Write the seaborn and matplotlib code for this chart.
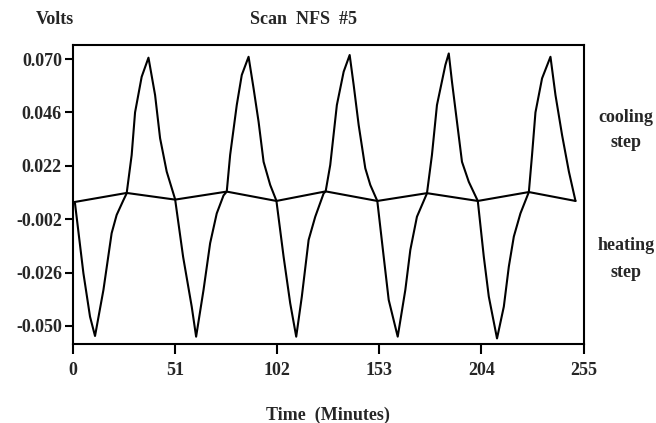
import numpy as np
import pandas as pd
import seaborn as sns
import matplotlib
matplotlib.use("Agg")
import matplotlib.pyplot as plt

# signal trace (time in minutes, volts)
signal_t = [0, 1, 5.2, 8.5, 11, 15.2, 19.3, 21.8, 25.2, 26.8, 29.3, 31, 34.3, 37.7, 41, 43.5, 46.8, 51,
            55, 59.3, 61.5, 65.2, 68.5, 71.8, 75.2, 76.8, 78.5, 81.8, 84.3, 87.7, 90.2, 92.7, 95.2, 98.5, 101.6,
            105.2, 108.5, 111.5, 114.3, 117.7, 121, 125.2, 126.2, 128.5, 131.8, 135.2, 138.2, 140.2, 142.7, 146,
            148.5, 152, 155.2, 157.7, 162.2, 166, 168.5, 171.8, 176.8, 179.3, 181.8, 186, 187.7, 189.3, 191.8,
            194.3, 197.7, 202.2, 205.2, 207.7, 211.8, 215.2, 217.7, 220.2, 223.5, 227.7, 229.3, 231, 234.3,
            238.5, 241, 244.3, 247.7, 251]
signal_v = [0.0056, 0.0051, -0.0263, -0.0458, -0.0545, -0.0338, -0.0083, -0.0001, 0.0066, 0.0096, 0.0268,
            0.046, 0.062, 0.0706, 0.0538, 0.0344, 0.0194, 0.0070,
            -0.0189, -0.0413, -0.0548, -0.0338, -0.0128, 0.0006, 0.0087, 0.0104, 0.0269, 0.0493, 0.0628, 0.0710,
            0.0568, 0.0418, 0.0238, 0.0134, 0.0063,
            -0.0189, -0.0398, -0.0548, -0.0368, -0.0113, -0.0009, 0.0096, 0.0105, 0.0224, 0.0493, 0.0643, 0.0718,
            0.0583, 0.0403, 0.0209, 0.0134, 0.0062,
            -0.0189, -0.0383, -0.0548, -0.0338, -0.0158, -0.0009, 0.0096, 0.0269, 0.0493, 0.0673, 0.0725, 0.0598,
            0.0418, 0.0238, 0.0148, 0.0062,
            -0.0189, -0.0368, -0.0556, -0.0413, -0.0233, -0.0098, 0.0006, 0.0102, 0.0269, 0.046, 0.0613,
            0.071, 0.0538, 0.0358, 0.0194, 0.0062]

# baseline zig-zag
base_t = [0, 26.8, 51, 76.8, 101.6, 126.2, 152, 176.8, 202.2, 227.7, 251]
base_v = [0.0056, 0.0098, 0.0068, 0.0104, 0.0062, 0.0105, 0.0062, 0.0097, 0.0062, 0.0102, 0.0062]

x_ticks = [0, 51, 102, 153, 204, 255]
y_ticks = [0.070, 0.046, 0.022, -0.002, -0.026, -0.050]

sns.set_theme(style="ticks")
plt.rcParams["font.family"] = ["Liberation Serif", "DejaVu Serif"]
plt.rcParams["font.weight"] = "bold"

sig = pd.DataFrame({"t": signal_t, "v": signal_v})
base = pd.DataFrame({"t": base_t, "v": base_v})

fig = plt.figure(figsize=(6.56, 4.23), dpi=100)
ax = fig.add_axes([73 / 656, 1 - 344 / 423, 510.5 / 656, 299 / 423])

sns.lineplot(data=sig, x="t", y="v", sort=False, estimator=None, color="black", linewidth=1.5, ax=ax)
sns.lineplot(data=base, x="t", y="v", sort=False, estimator=None, color="black", linewidth=1.5, ax=ax)

ax.set_xlim(0, 255)
ax.set_ylim(-0.0581, 0.0763)
ax.set_xticks(x_ticks)
ax.set_xticklabels([str(t) for t in x_ticks])
ax.set_yticks(y_ticks)
ax.set_yticklabels([f"{v:.3f}" for v in y_ticks])
ax.tick_params(axis="x", length=7, width=1.5, pad=6, labelsize=13, color="black")
ax.tick_params(axis="y", length=6, width=1.5, pad=2, labelsize=13, color="black")
for lab in ax.get_xticklabels() + ax.get_yticklabels():
    lab.set_fontweight("bold")
for s in ax.spines.values():
    s.set_visible(True)
    s.set_linewidth(1.5)
    s.set_color("black")

ax.set_xlabel("")
ax.set_ylabel("")

fs = 13
fig.text(328 / 656, 1 - 415 / 423, "Time  (Minutes)", ha="center", va="center", fontsize=fs, fontweight="bold")
fig.text(55 / 656, 1 - 20 / 423, "Volts", ha="center", va="center", fontsize=fs, fontweight="bold")
fig.text(303 / 656, 1 - 20 / 423, "Scan  NFS  #5", ha="center", va="center", fontsize=fs, fontweight="bold")
fig.text(626 / 656, 1 - 117 / 423, "cooling", ha="center", va="center", fontsize=fs, fontweight="bold")
fig.text(626 / 656, 1 - 142 / 423, "step", ha="center", va="center", fontsize=fs, fontweight="bold")
fig.text(626 / 656, 1 - 245 / 423, "heating", ha="center", va="center", fontsize=fs, fontweight="bold")
fig.text(626 / 656, 1 - 272 / 423, "step", ha="center", va="center", fontsize=fs, fontweight="bold")

fig.savefig("out.png", dpi=100, facecolor="white")
